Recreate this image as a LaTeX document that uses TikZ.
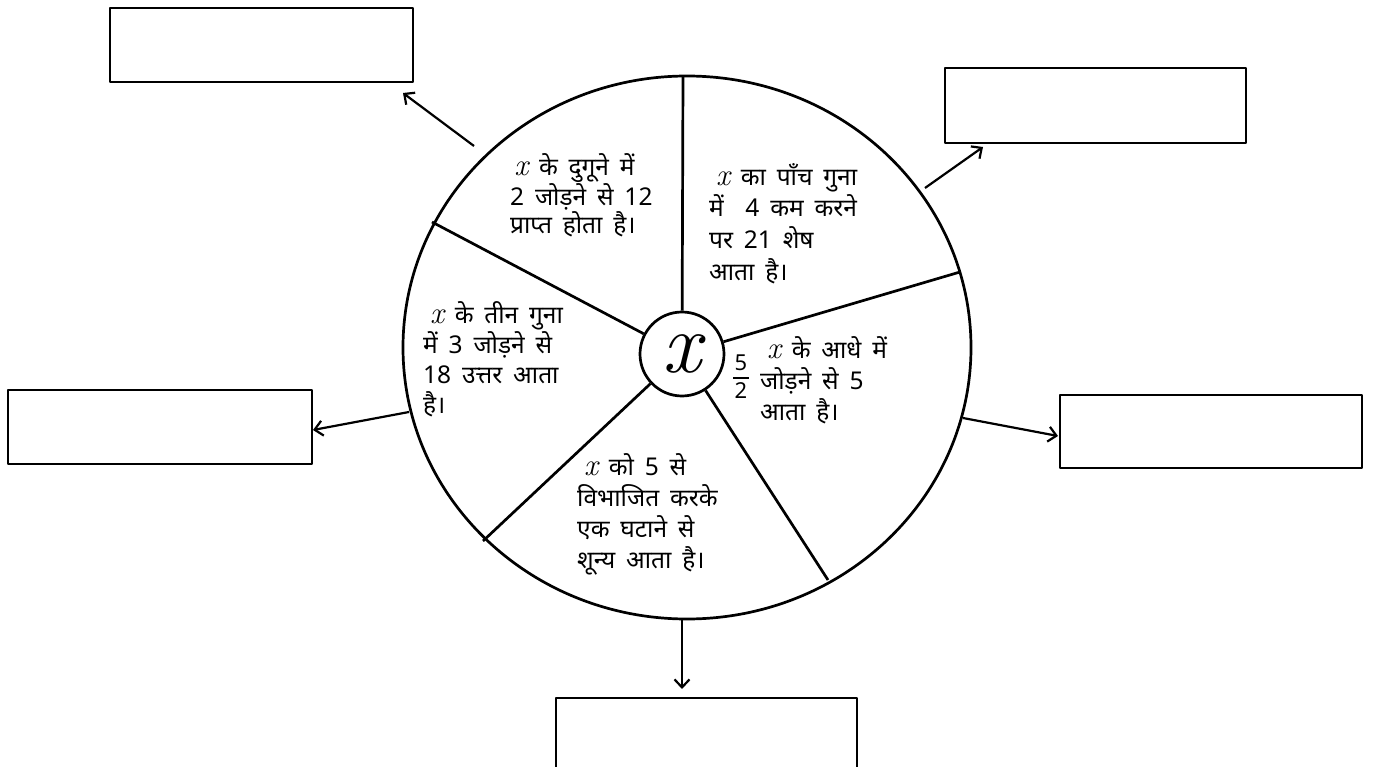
\documentclass[tikz,border=0pt]{standalone}
\usepackage{fontspec}
\newfontfamily\dev[Script=Devanagari,WordSpace=1.7]{Noto Sans}
\usetikzlibrary{arrows.meta}
\newcommand{\vx}{{\rmfamily\itshape\fontsize{31}{31}\selectfont x}}
\begin{document}
\begin{tikzpicture}[x=1pt,y=-1pt,line join=round,
  wheel/.style={line width=2.7pt},
  blank/.style={draw,line width=2.4pt,inner sep=0pt},
  link/.style={line width=2.2pt,-{Straight Barb[length=8pt,width=15pt,line width=2.2pt]}},
  seg/.style={font=\dev\fontsize{24.5}{#1}\selectfont,align=left,inner sep=0pt,anchor=base west}]
\clip (0,0) rectangle (1373,767);
\useasboundingbox (0,0) rectangle (1373,767);
% wheel
\coordinate (c) at (687,347.5);
\draw[wheel] (c) ellipse [x radius=284,y radius=271.5];
\node[draw,circle,line width=2.7pt,minimum size=84pt,inner sep=0pt] (hub) at (682,354) {\rmfamily\itshape\fontsize{86}{86}\selectfont x};
\coordinate (o1) at (683,76);
\coordinate (o2) at (960,272);
\coordinate (o3) at (828,580);
\coordinate (o4) at (483,541);
\coordinate (o5) at (432,222);
\foreach \o in {o1,o2,o3,o4,o5} \draw[wheel] (hub) -- (\o);
% texts (anchored at the baseline of the last line)
\node[seg=28.5] (t1) at (510,234) {\,\vx{} के दुगूने में\\2 जोड़ने से 12\\प्राप्त होता है।};
\node[seg=31.5] (t2) at (709,280) {\;\vx{} का पाँच गुना\\में \ 4 कम करने\\पर 21 शेष\\आता है।};
\node[seg=30] (t3) at (423,413) {\;\vx{} के तीन गुना\\में 3 जोड़ने से\\18 उत्तर आता\\है।};
\node[seg=31] (t4) at (760,420) {\;\vx{} के आधे में\\जोड़ने से 5\\आता है।};
\node[inner sep=0pt] (f4) at (741,380) {\dev\fontsize{22}{24}\selectfont\setlength{\arrayrulewidth}{1.8pt}\setlength{\tabcolsep}{1.5pt}\begin{tabular}{c}5\\[-1pt]\hline\rule{0pt}{20pt}2\end{tabular}};
\node[seg=31] (t5) at (577,568) {\;\vx{} को 5 से\\विभाजित करके\\एक घटाने से\\शून्य आता है।};
% answer boxes
\node[blank,minimum width=303pt,minimum height=74pt] (b1) at (261.5,45) {};
\node[blank,minimum width=301pt,minimum height=75pt] (b2) at (1095.5,105.5) {};
\node[blank,minimum width=304pt,minimum height=74pt] (b3) at (160,427) {};
\node[blank,minimum width=302pt,minimum height=73pt] (b4) at (1211,431.5) {};
\node[blank,minimum width=301pt,minimum height=74pt] (b5) at (706.5,735) {};
% arrows
\coordinate (p1) at (474,146); \coordinate (q1) at (403,93);
\coordinate (p2) at (925,188); \coordinate (q2) at (983,147);
\coordinate (p3) at (409,412); \coordinate (q3) at (313,430);
\coordinate (p4) at (963,418); \coordinate (q4) at (1058,436);
\coordinate (p5) at (682,619); \coordinate (q5) at (682,689);
\draw[link] (p1) -- (q1);
\draw[link] (p2) -- (q2);
\draw[link] (p3) -- (q3);
\draw[link] (p4) -- (q4);
\draw[link] (p5) -- (q5);
\end{tikzpicture}
\end{document}
